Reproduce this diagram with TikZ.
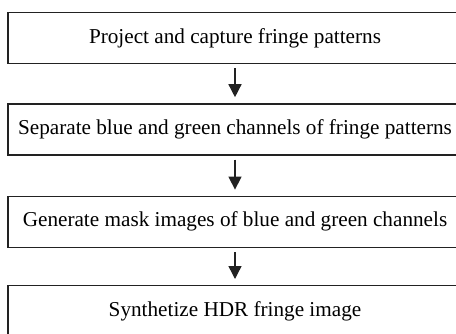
\documentclass[tikz,border=0pt]{standalone}
\usepackage{fontspec}
\setmainfont{Liberation Serif}
\usetikzlibrary{positioning,arrows.meta}
\definecolor{boxline}{HTML}{222222}

\begin{document}
\begin{tikzpicture}[x=1pt, y=1pt, node distance=39pt,
	stage/.style={draw=boxline, line width=1.4pt, minimum width=454pt, minimum height=51pt,
		inner sep=2pt, font=\fontsize{21.2}{24}\selectfont},
	flow/.style={-{Triangle[length=13pt,width=13pt]}, line width=1.4pt, draw=boxline,
		shorten <=4pt, shorten >=6pt}]

	% page is cut at the right and bottom, the boxes run past it
	\useasboundingbox (0,0) rectangle (456,-333);
	\clip (0,0) rectangle (456,-333);

	\node[stage] (project) at (235,-38) {Project and capture fringe patterns};
	\node[stage, below=of project]  (separate)   {Separate blue and green channels of fringe patterns};
	\node[stage, below=40pt of separate] (mask)  {Generate mask images of blue and green channels};
	\node[stage, below=37pt of mask] (synthesize) {Synthetize HDR fringe image};

	\draw[flow] (project)  -- (separate);
	\draw[flow] (separate) -- (mask);
	\draw[flow] (mask)     -- (synthesize);

\end{tikzpicture}
\end{document}
